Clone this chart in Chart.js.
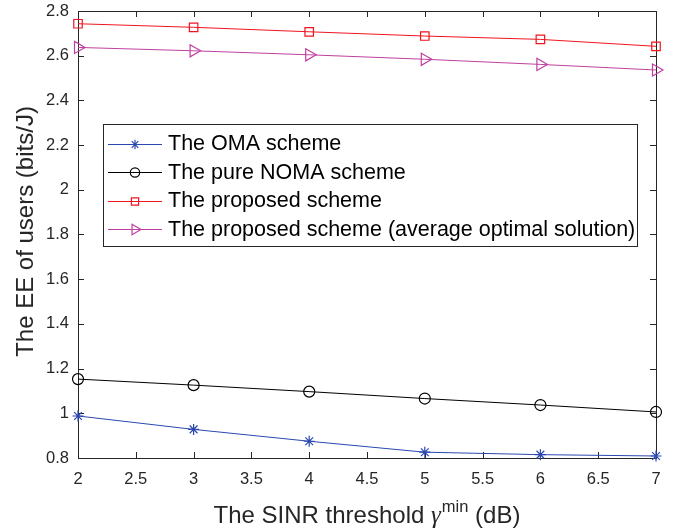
<!DOCTYPE html>
<html><head><meta charset="utf-8">
<script src="https://cdn.jsdelivr.net/npm/chart.js@4/dist/chart.umd.min.js"></script>
<style>html,body{margin:0;padding:0;background:#fff}#wrap{width:678px;height:531px;position:relative}</style>
</head><body><div id="wrap"><canvas id="c" width="678" height="531"></canvas></div>
<script>
const xValues=[2,3,4,5,6,7];
const omaEE=[0.988,0.928,0.875,0.826,0.815,0.809];
const nomaEE=[1.153,1.126,1.097,1.066,1.037,1.006];
const proposedEE=[2.743,2.727,2.707,2.688,2.673,2.642];
const averageEE=[2.637,2.622,2.604,2.584,2.561,2.536];
const xTicks=[2,2.5,3,3.5,4,4.5,5,5.5,6,6.5,7];
const yTicks=[0.8,1,1.2,1.4,1.6,1.8,2,2.2,2.4,2.6,2.8];
const seriesLabels=['The OMA scheme','The pure NOMA scheme','The proposed scheme','The proposed scheme (average optimal solution)'];
const xTitleParts=['The SINR threshold ','\u03B3','min',' (dB)'];
const yTitle='The EE of users (bits/J)';

const AX='#262626';
const SANS='"Liberation Sans", Arial, Helvetica, sans-serif';
const pts=arr=>xValues.map((x,i)=>({x:x,y:arr[i]}));

function mk(label,data,color,style,radius,rot){
  return {label:label,data:pts(data),borderColor:color,backgroundColor:'rgba(0,0,0,0)',
    borderWidth:1,pointStyle:style,pointRadius:radius,pointHoverRadius:radius,
    pointRotation:rot||0,pointBorderColor:color,pointBackgroundColor:'rgba(0,0,0,0)',
    pointBorderWidth:1.2,tension:0,clip:false};
}
const datasets=[
  mk(seriesLabels[0],omaEE,'#2a48b0','star',5.5),
  mk(seriesLabels[1],nomaEE,'#000000','circle',5.5),
  mk(seriesLabels[2],proposedEE,'#f0141e','rect',6),
  mk(seriesLabels[3],averageEE,'#c040a0','triangle',7,90)
];

const matlab={
  id:'matlab',
  beforeDatasetsDraw(chart){
    const ctx=chart.ctx,{left,right,top,bottom}=chart.chartArea;
    const xs=chart.scales.x, ys=chart.scales.y;
    ctx.save();
    ctx.strokeStyle=AX;ctx.lineWidth=1;
    ctx.beginPath();
    xTicks.forEach(v=>{const p=Math.round(xs.getPixelForValue(v))+0.5;
      ctx.moveTo(p,bottom);ctx.lineTo(p,bottom-6);ctx.moveTo(p,top);ctx.lineTo(p,top+6);});
    yTicks.forEach(v=>{const p=Math.round(ys.getPixelForValue(v))+0.5;
      ctx.moveTo(left,p);ctx.lineTo(left+6,p);ctx.moveTo(right,p);ctx.lineTo(right-6,p);});
    ctx.stroke();
    ctx.strokeRect(Math.round(left)+0.5,Math.round(top)+0.5,Math.round(right-left),Math.round(bottom-top));
    ctx.restore();
  },
  afterDraw(chart){
    const ctx=chart.ctx,{left,right,top,bottom}=chart.chartArea;
    ctx.save();
    // legend
    const fL='21.5px '+SANS;
    ctx.font=fL;
    const ds=chart.data.datasets;
    const maxW=Math.max(...ds.map(d=>ctx.measureText(d.label).width));
    const bx=103.5,by=124.5,textX=168,rowH=28.5,firstY=143.5;
    const bw=Math.round(textX+maxW+2-bx), bh=122;
    ctx.fillStyle='#fff';ctx.fillRect(bx,by,bw,bh);
    ctx.strokeStyle=AX;ctx.lineWidth=1;ctx.strokeRect(bx,by,bw,bh);
    ds.forEach((d,i)=>{
      const y=firstY+i*rowH;
      ctx.strokeStyle=d.borderColor;ctx.lineWidth=1;
      ctx.beginPath();ctx.moveTo(108,Math.round(y)+0.5);ctx.lineTo(162,Math.round(y)+0.5);ctx.stroke();
      ctx.fillStyle='rgba(0,0,0,0)';ctx.lineWidth=1.2;
      Chart.helpers.drawPoint(ctx,{pointStyle:d.pointStyle,rotation:d.pointRotation,radius:d.pointRadius*0.85,borderWidth:1.2},135,Math.round(y)+0.5);
      ctx.fillStyle='#000';ctx.textBaseline='middle';ctx.textAlign='left';
      ctx.font=fL;
      ctx.fillText(d.label,textX,y+1);
    });
    // x title
    ctx.fillStyle=AX;ctx.textBaseline='alphabetic';ctx.textAlign='left';
    const fMain='24px '+SANS, fG='italic 25px "Liberation Serif", "DejaVu Serif", serif', fSup='16.5px '+SANS;
    const fonts=[fMain,fG,fSup,fMain];
    const widths=xTitleParts.map((t,i)=>{ctx.font=fonts[i];return ctx.measureText(t).width;});
    const total=widths.reduce((a,b)=>a+b,0)+1;
    let x=(left+right)/2-total/2;const base=523;
    xTitleParts.forEach((t,i)=>{ctx.font=fonts[i];
      ctx.fillText(t,x,i===2?base-11:base);x+=widths[i]+(i===1?1:0);});
    // y title
    ctx.translate(33,(top+bottom)/2-3);ctx.rotate(-Math.PI/2);
    ctx.font=fMain;ctx.textAlign='center';ctx.fillText(yTitle,0,0);
    ctx.restore();
  }
};

function zeroPad(s){s.paddingTop=0;s.paddingBottom=0;s.paddingLeft=0;s.paddingRight=0;}

new Chart(document.getElementById('c'),{
  type:'line',
  data:{datasets:datasets},
  options:{
    responsive:false,animation:false,
    layout:{padding:{left:0,right:22,top:11,bottom:0},autoPadding:false},
    plugins:{legend:{display:false},tooltip:{enabled:false}},
    scales:{
      x:{type:'linear',min:2,max:7,
        afterBuildTicks(s){s.ticks=xTicks.map(v=>({value:v}));},
        afterFit(s){s.height=73;zeroPad(s);},
        grid:{display:false,drawTicks:false},border:{display:false},
        ticks:{padding:12,color:AX,font:{size:16.5,family:SANS},maxRotation:0,autoSkip:false,callback:v=>String(v)}},
      y:{type:'linear',min:0.8,max:2.8,
        afterBuildTicks(s){s.ticks=yTicks.map(v=>({value:v}));},
        afterFit(s){s.width=78;zeroPad(s);},
        grid:{display:false,drawTicks:false},border:{display:false},
        ticks:{padding:9,color:AX,font:{size:16.5,family:SANS},autoSkip:false,callback:v=>String(v)}}
    }
  },
  plugins:[matlab]
});
</script></body></html>
